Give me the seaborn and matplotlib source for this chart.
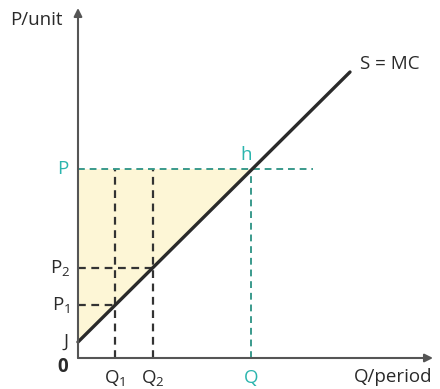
import matplotlib
matplotlib.use("Agg")
import matplotlib.pyplot as plt
import seaborn as sns
import pandas as pd
import numpy as np

sns.set_style("white")
plt.rcParams['font.family'] = ['Open Sans', 'DejaVu Sans']
plt.rcParams['mathtext.fontset'] = 'custom'
plt.rcParams['mathtext.rm'] = 'Open Sans'
plt.rcParams['mathtext.it'] = 'Open Sans'

# data (arbitrary units)
supply_q = [0.0, 27.2]
supply_p = [1.6, 28.6]
J = 1.6
Q1, Q2, Q = 3.7, 7.5, 17.3
P1, P2, P = 5.3, 9.0, 18.9
p_line_end = 23.5
x_max, y_max = 35.5, 35.0

dark = "#2a2a2a"
axis_col = "#555555"
teal_txt = "#2bb5ae"
teal_line = "#3a9a8c"
dash_col = "#333333"
fill_col = "#fdf6d6"

fig = plt.figure(figsize=(4.40, 3.89), dpi=100)
ax = fig.add_axes([0, 0, 1, 1])
ax.set_xlim(-7.8, 36.2)
ax.set_ylim(-3.1, 35.8)
ax.axis("off")

# shaded triangle
ax.fill([0, 0, Q], [J, P, P], color=fill_col, zorder=1, lw=0)

# dashed guides
dash = (0, (3.5, 2.5))
ax.plot([Q1, Q1], [0, P], color=dash_col, lw=1.6, ls=dash, zorder=2)
ax.plot([Q2, Q2], [0, P], color=dash_col, lw=1.6, ls=dash, zorder=2)
ax.plot([0, Q1], [P1, P1], color=dash_col, lw=1.6, ls=dash, zorder=2)
ax.plot([0, Q2], [P2, P2], color=dash_col, lw=1.6, ls=dash, zorder=2)
ax.plot([0, p_line_end], [P, P], color=teal_line, lw=1.4, ls=dash, zorder=2)
ax.plot([Q, Q], [0, P], color=teal_line, lw=1.4, ls=dash, zorder=2)

# supply curve
df = pd.DataFrame({"q": supply_q, "p": supply_p})
sns.lineplot(data=df, x="q", y="p", ax=ax, color=dark, lw=2.4, zorder=4)

# axes
arrow = dict(arrowstyle="-|>", color=axis_col, lw=1.5, mutation_scale=12, shrinkA=0, shrinkB=0)
ax.annotate("", xy=(x_max, 0), xytext=(0, 0), arrowprops=arrow, zorder=5)
ax.annotate("", xy=(0, y_max), xytext=(0, 0), arrowprops=arrow, zorder=5)

fs = 13.5
ax.text(-1.5, 33.8, "P/unit", ha="right", va="center", fontsize=fs, color=dark)
ax.text(35.4, -1.9, "Q/period", ha="right", va="center", fontsize=fs, color=dark)
ax.text(-1.5, -0.9, "0", ha="center", va="center", fontsize=fs, color=dark, fontweight="bold")
ax.text(-1.2, J, "J", ha="center", va="center", fontsize=fs, color=dark)
ax.text(-0.8, P1, r"P$_\mathregular{1}$", ha="right", va="center", fontsize=fs, color=dark)
ax.text(-0.8, P2, r"P$_\mathregular{2}$", ha="right", va="center", fontsize=fs, color=dark)
ax.text(-1.0, P, "P", ha="right", va="center", fontsize=fs, color=teal_txt)
ax.text(Q1, -2.0, r"Q$_\mathregular{1}$", ha="center", va="center", fontsize=fs, color=dark)
ax.text(Q2, -2.0, r"Q$_\mathregular{2}$", ha="center", va="center", fontsize=fs, color=dark)
ax.text(Q, -2.0, "Q", ha="center", va="center", fontsize=fs, color=teal_txt)
ax.text(Q - 0.5, P + 1.4, "h", ha="center", va="center", fontsize=fs, color=teal_txt)
ax.text(28.2, 29.4, "S = MC", ha="left", va="center", fontsize=fs, color=dark)

fig.savefig("out.png", dpi=100)
